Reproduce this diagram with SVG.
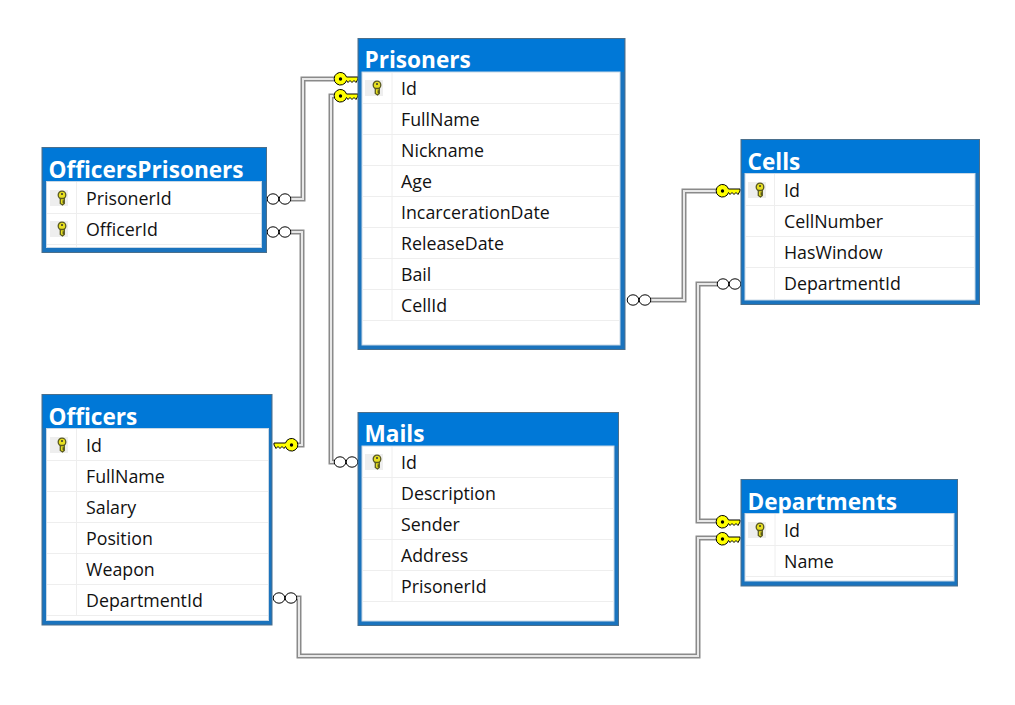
<svg xmlns="http://www.w3.org/2000/svg" width="1015" height="705" viewBox="0 0 1015 705">
<style>
.outer{fill:#1a73bd;stroke:#4a6f8c;stroke-width:1}
.head{fill:#0078d7}
.inner{fill:#fff;stroke:#c8d8e6;stroke-width:1}
.sep{stroke:#eeeeee;stroke-width:1;fill:none}
.title{font-family:"Open Sans","Noto Sans",sans-serif;font-weight:700;font-size:22.600px;fill:#fff}
.row{font-family:"Open Sans","Noto Sans",sans-serif;font-size:17.800px;fill:#111}
.wa{fill:none;stroke:#8a8a8a;stroke-width:5}
.wb{fill:none;stroke:#e8e8e8;stroke-width:2}
.circ{fill:#fff;stroke:#000;stroke-width:1}
.kf{fill:#ffff00;stroke:#000;stroke-width:1}
.ib{fill:#eeeeee}
.ik{fill:#e8e020;stroke:#5a5a20;stroke-width:1.300}
</style>
<defs>
<g id="pk"><rect class="ib" x="-12" y="-8" width="18" height="16"/><circle class="ik" cx="0" cy="-3" r="3.800"/><path class="ik" d="M-1.700 0.500V5.500L0.500 7L2.300 5.500V4.500H1.200V3H2.300V0.500Z"/><circle cx="0" cy="-4" r="1" fill="#333"/></g>
<g id="cr"><ellipse class="circ" cx="-6" cy="0" rx="5.800" ry="5.200"/><ellipse class="circ" cx="6" cy="0" rx="5.800" ry="5.200"/></g>
<g id="keyR"><path class="kf" d="M5.500 -2A6.300 6.300 0 1 0 5.500 1.500L7 3.500L9 1.500L11 3.500L13 1.500L15 3.500L17 0V-2Z"/><circle cx="-0.500" cy="0" r="1.700" fill="#000"/></g>
</defs>
<g id="connectors">
<path class="wa" d="M291 199H303V79H334"/><path class="wb" d="M291 199H303V79H334"/>
<path class="wa" d="M291 232H302V445H297"/><path class="wb" d="M291 232H302V445H297"/>
<path class="wa" d="M334 96H331V462H334"/><path class="wb" d="M334 96H331V462H334"/>
<path class="wa" d="M651 300H684V191H717"/><path class="wb" d="M651 300H684V191H717"/>
<path class="wa" d="M717 284H698V521H717"/><path class="wb" d="M717 284H698V521H717"/>
<path class="wa" d="M297 598H299V656H698V538H717"/><path class="wb" d="M297 598H299V656H698V538H717"/>
<use href="#keyR" x="341" y="79"/><use href="#keyR" x="341" y="96"/>
<use href="#keyR" x="723" y="191"/><use href="#keyR" x="723" y="522"/><use href="#keyR" x="723" y="539"/>
<use href="#keyR" transform="translate(291 445) scale(-1 1)"/>
<use href="#cr" x="279" y="199"/><use href="#cr" x="279" y="232"/>
<use href="#cr" x="346" y="462"/>
<use href="#cr" x="639" y="300"/>
<use href="#cr" x="729" y="284"/>
<use href="#cr" x="285" y="598"/>
</g>
<g id="OfficersPrisoners">
<rect class="outer" x="42" y="147.500" width="224.500" height="105"/>
<rect class="head" x="43" y="148" width="223" height="33"/>
<rect class="inner" x="46.500" y="181.500" width="215" height="66"/>
<path class="sep" d="M47 213.500H261M47 244.500H261M76.500 182V247"/>
<text class="title" x="48.500" y="178">OfficersPrisoners</text>
<use href="#pk" x="62" y="198"/><use href="#pk" x="62" y="229"/>
<text class="row" x="86" y="205">PrisonerId</text>
<text class="row" x="86" y="236">OfficerId</text>
</g>
<g id="Prisoners">
<rect class="outer" x="358" y="38.500" width="267" height="311"/>
<rect class="head" x="359" y="39" width="265" height="33"/>
<rect class="inner" x="362" y="72" width="258" height="273"/>
<path class="sep" d="M363 103.500H619M363 134.500H619M363 165.500H619M363 196.500H619M363 227.500H619M363 258.500H619M363 289.500H619M363 320.500H619M392 73V320"/>
<text class="title" x="364.500" y="68">Prisoners</text>
<use href="#pk" x="377" y="88"/>
<text class="row" x="401" y="95">Id</text>
<text class="row" x="401" y="126">FullName</text>
<text class="row" x="401" y="157">Nickname</text>
<text class="row" x="401" y="188">Age</text>
<text class="row" x="401" y="219">IncarcerationDate</text>
<text class="row" x="401" y="250">ReleaseDate</text>
<text class="row" x="401" y="281">Bail</text>
<text class="row" x="401" y="312">CellId</text>
</g>
<g id="Cells">
<rect class="outer" x="741" y="139.500" width="238.500" height="165"/>
<rect class="head" x="742" y="140" width="237" height="33"/>
<rect class="inner" x="745" y="173.500" width="230" height="126.500"/>
<path class="sep" d="M746 205.500H974M746 236.500H974M746 267.500H974M774.500 174V299"/>
<text class="title" x="747.500" y="170">Cells</text>
<use href="#pk" x="760" y="190"/>
<text class="row" x="784" y="197">Id</text>
<text class="row" x="784" y="228">CellNumber</text>
<text class="row" x="784" y="259">HasWindow</text>
<text class="row" x="784" y="290">DepartmentId</text>
</g>
<g id="Officers">
<rect class="outer" x="42" y="394.500" width="230" height="230.500"/>
<rect class="head" x="43" y="395" width="228" height="33"/>
<rect class="inner" x="46.500" y="428.500" width="222" height="192"/>
<path class="sep" d="M47 460.500H268M47 491.500H268M47 522.500H268M47 553.500H268M47 584.500H268M47 615.500H268M76.500 429V615"/>
<text class="title" x="48.500" y="425">Officers</text>
<use href="#pk" x="62" y="445"/>
<text class="row" x="86" y="452">Id</text>
<text class="row" x="86" y="483">FullName</text>
<text class="row" x="86" y="514">Salary</text>
<text class="row" x="86" y="545">Position</text>
<text class="row" x="86" y="576">Weapon</text>
<text class="row" x="86" y="607">DepartmentId</text>
</g>
<g id="Mails">
<rect class="outer" x="358" y="412.500" width="260.500" height="213"/>
<rect class="head" x="359" y="413" width="259" height="33"/>
<rect class="inner" x="362" y="446" width="252" height="175"/>
<path class="sep" d="M363 477.500H613M363 508.500H613M363 539.500H613M363 570.500H613M363 601.500H613M392 447V601"/>
<text class="title" x="364.500" y="442">Mails</text>
<use href="#pk" x="377" y="462"/>
<text class="row" x="401" y="469">Id</text>
<text class="row" x="401" y="500">Description</text>
<text class="row" x="401" y="531">Sender</text>
<text class="row" x="401" y="562">Address</text>
<text class="row" x="401" y="593">PrisonerId</text>
</g>
<g id="Departments">
<rect class="outer" x="741" y="479.500" width="216.500" height="106.500"/>
<rect class="head" x="742" y="480" width="215" height="33"/>
<rect class="inner" x="745" y="513.500" width="209" height="67.500"/>
<path class="sep" d="M746 545.500H953M746 576.500H953M775 514V576"/>
<text class="title" x="747.500" y="510">Departments</text>
<use href="#pk" x="760" y="530"/>
<text class="row" x="784" y="537">Id</text>
<text class="row" x="784" y="568">Name</text>
</g>
</svg>
